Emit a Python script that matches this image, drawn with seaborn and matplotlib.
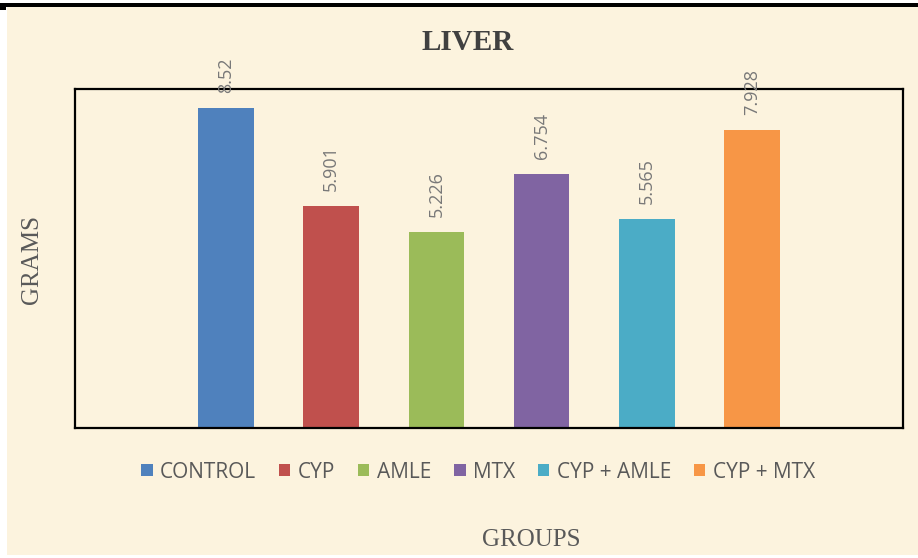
import matplotlib
matplotlib.use("Agg")
import matplotlib.pyplot as plt
from matplotlib.patches import Patch, Rectangle
import seaborn as sns
import pandas as pd

groups = ["CONTROL", "CYP", "AMLE", "MTX", "CYP + AMLE", "CYP + MTX"]
values = [8.52, 5.901, 5.226, 6.754, 5.565, 7.928]
value_labels = ["8.52", "5.901", "5.226", "6.754", "5.565", "7.928"]
colors = ["#4F81BD", "#C0504D", "#9BBB59", "#8064A2", "#4BACC6", "#F79646"]
title = "LIVER"
ylabel = "GRAMS"
xlabel = "GROUPS"

sns.set_theme(style="white")
plt.rcParams["font.family"] = ["Open Sans", "DejaVu Sans"]

bg = "#FCF3DE"
fig = plt.figure(figsize=(9.18, 5.58), dpi=100, facecolor=bg)
ax = fig.add_axes([75 / 918, 1 - 428 / 558, 828 / 918, (428 - 89) / 558])
ax.set_facecolor("none")

df = pd.DataFrame({"group": groups, "value": values})
sns.barplot(data=df, x="group", y="value", hue="group", palette=colors,
            order=groups, hue_order=groups, width=0.53, legend=False,
            saturation=1, linewidth=0, edgecolor="none", ax=ax)

for i, (v, lab) in enumerate(zip(values, value_labels)):
    ax.annotate(lab, xy=(i, v), xytext=(0, 11), textcoords="offset points",
                rotation=90, ha="center", va="bottom", fontsize=13,
                color="#787878", annotation_clip=False)

ax.set_xlim(-1.435, 6.435)
ax.set_ylim(0, 9.03)
ax.set_xticks([])
ax.set_yticks([])
ax.set_xlabel("")
ax.set_ylabel("")
for s in ax.spines.values():
    s.set_visible(True)
    s.set_color("black")
    s.set_linewidth(1.6)

fig.text(468 / 918, 1 - 43 / 558, title, ha="center", va="center",
         fontsize=21, fontweight="bold", color="#404040",
         family=["Liberation Serif", "DejaVu Serif"])
fig.text(32 / 918, 1 - 260 / 558, ylabel, ha="center", va="center",
         rotation=90, fontsize=18, color="#595959",
         family=["Liberation Serif", "DejaVu Serif"])
fig.text(531 / 918, 1 - 540 / 558, xlabel, ha="center", va="center",
         fontsize=18, color="#595959",
         family=["Liberation Serif", "DejaVu Serif"])

handles = [Patch(facecolor=c, edgecolor="none", label=g) for g, c in zip(groups, colors)]
leg = fig.legend(handles=handles, loc="center", bbox_to_anchor=(478 / 918, 1 - 472 / 558),
                 ncol=6, frameon=False, fontsize=15, handlelength=0.55,
                 handleheight=0.55, handletextpad=0.35, columnspacing=1.1)
for t in leg.get_texts():
    t.set_color("#595959")

# frame decorations
fig.patches.append(Rectangle((0, 1 - 7 / 558), 1, 4 / 558, transform=fig.transFigure,
                             facecolor="black", edgecolor="none", zorder=10))
fig.patches.append(Rectangle((0, 0), 7 / 918, 1 - 7 / 558, transform=fig.transFigure,
                             facecolor="white", edgecolor="none", zorder=9))
fig.patches.append(Rectangle((0, 1 - 10 / 558), 6 / 918, 7 / 558, transform=fig.transFigure,
                             facecolor="black", edgecolor="none", zorder=10))
fig.patches.append(Rectangle((0, 1), 1, -3 / 558, transform=fig.transFigure,
                             facecolor="white", edgecolor="none", zorder=9))
fig.patches.append(Rectangle((0, 0), 1, 3 / 558, transform=fig.transFigure,
                             facecolor="white", edgecolor="none", zorder=9))

fig.savefig("out.png", dpi=100, facecolor=bg)
